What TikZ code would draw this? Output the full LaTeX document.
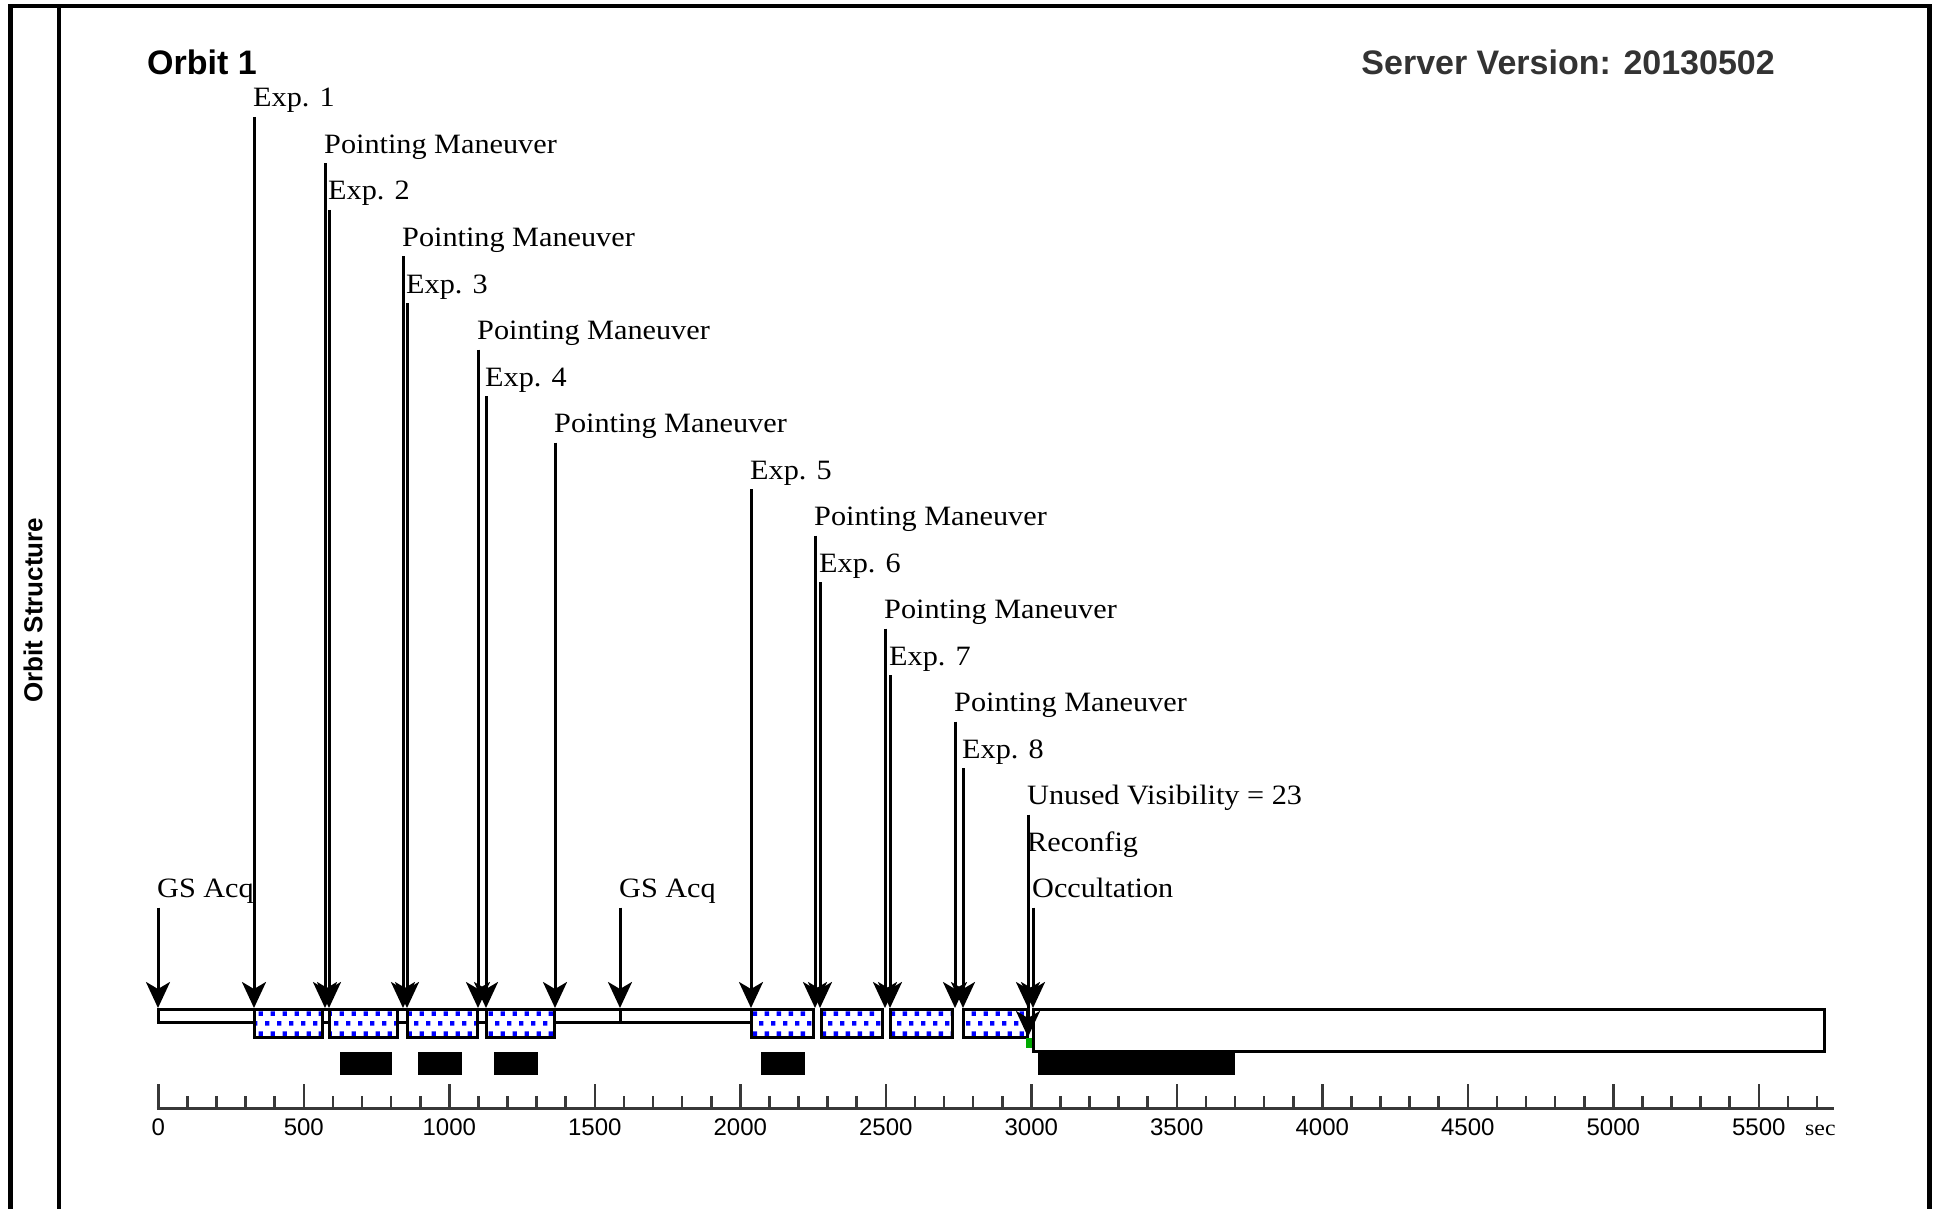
\documentclass[tikz,border=0pt]{standalone}
\usepackage{fontspec}
\setmainfont{Liberation Serif}
\newfontfamily\lblfont[FakeStretch=1.08]{Liberation Serif}
\newfontfamily\sansfont{Liberation Sans}
\usetikzlibrary{arrows.meta,patterns}
\definecolor{axgray}{HTML}{383838}
\definecolor{srvgray}{HTML}{333333}
\definecolor{recgreen}{RGB}{0,170,0}
\pgfdeclarepatternformonly{bluedots}{\pgfqpoint{0pt}{0pt}}{\pgfqpoint{11.5pt}{20pt}}{\pgfqpoint{11.5pt}{20pt}}{%
  \pgfpathrectangle{\pgfqpoint{0pt}{3.5pt}}{\pgfqpoint{4.6pt}{4.6pt}}%
  \pgfpathrectangle{\pgfqpoint{5.75pt}{13.5pt}}{\pgfqpoint{4.6pt}{4.6pt}}%
  \pgfusepath{fill}}
\begin{document}
\begin{tikzpicture}[x=1pt,y=-1pt,
  lbl/.style={font=\lblfont\fontsize{28}{28}\selectfont, anchor=base west, inner sep=0pt},
  evline/.style={line width=3pt, -{Stealth[length=26pt,width=24pt,inset=7pt]}},
  track/.style={draw=black, line width=3pt, fill=white},
  expbox/.style={draw=black, line width=3pt, preaction={fill=white}, pattern=bluedots, pattern color=blue},
  busy/.style={fill=black},
  axisline/.style={draw=axgray, line width=3pt},
  ticks/.style={draw=axgray, line width=2.6pt},
  axlbl/.style={font=\sansfont\fontsize{24}{24}\selectfont, anchor=base, inner sep=0pt},
  frame/.style={draw=black, line width=4.5pt, line join=miter}]
\useasboundingbox (0,0) rectangle (1939,1209);
\fill[white] (0,0) rectangle (1939,1209);
% frame
\draw[frame] (10.5,1212) -- (10.5,6) -- (1929.5,6) -- (1929.5,1212);
\draw[frame, line width=4pt] (59,6) -- (59,1212);
% headings
\node[font=\sansfont\bfseries\fontsize{34}{34}\selectfont, anchor=base west, inner sep=0pt] (orbit) at (147,75) {Orbit 1};
\node[font=\sansfont\bfseries\fontsize{34}{34}\selectfont, text=srvgray, anchor=base east, inner sep=0pt] (server) at (1775,75) {Server Version: 20130502};
\node[font=\sansfont\bfseries\fontsize{26}{26}\selectfont, rotate=90, inner sep=0pt] (side) at (33,610) {Orbit Structure};
% tracks
\draw[track] (158,1009) rectangle (751,1022);
\draw[track] (1033,1009) rectangle (1824,1051);
\foreach \a/\b in {254/322, 329/397, 407/477, 486/554, 751/813, 821/882, 890/952, 963/1027}
  \draw[expbox] (\a,1009) rectangle (\b,1037);
\draw[line width=3pt] (620,1009) -- (620,1022);
% busy bars
\foreach \a/\b in {340/392, 418/462, 494/538, 761/805, 1038/1235}
  \fill[busy] (\a,1052) rectangle (\b,1075);
% axis
\draw[axisline] (156.8,1108) -- (1834,1108);
\foreach \i in {0,...,57} {
  \pgfmathsetmacro\xx{158.3+29.1*\i}
  \draw[ticks] (\xx,1109) -- (\xx,1096);
}
\foreach \i in {0,...,11} {
  \pgfmathsetmacro\xx{158.3+145.5*\i}
  \draw[ticks] (\xx,1109) -- (\xx,1084);
}
\foreach \v [count=\k from 0] in {0,500,1000,1500,2000,2500,3000,3500,4000,4500,5000,5500}
  \node[axlbl] (ax\k) at (158.3+0.291*\v,1135) {\v};
\node[font=\lblfont\fontsize{22}{22}\selectfont, anchor=base west, inner sep=0pt] (sec) at (1805,1135) {sec};
% events
\foreach \n/\x/\r/\t in {e1/254/0/Exp. 1, pm1/325/1/Pointing Maneuver, e2/329/2/Exp. 2,
    pm2/403/3/Pointing Maneuver, e3/407/4/Exp. 3, pm3/478/5/Pointing Maneuver, e4/486/6/Exp. 4,
    pm4/555/7/Pointing Maneuver, e5/751/8/Exp. 5, pm5/815/9/Pointing Maneuver, e6/820/10/Exp. 6,
    pm6/885/11/Pointing Maneuver, e7/890/12/Exp. 7, pm7/955/13/Pointing Maneuver, e8/963/14/Exp. 8,
    uv/1028/15/Unused Visibility = 23, oc/1033/17/Occultation, gs1/158/17/GS Acq, gs2/620/17/GS Acq} {
  \pgfmathsetmacro\bl{107+46.5*\r}
  \node[lbl] (L\n) at (\x-1,\bl) {\t};
  \coordinate (S\n) at (\x,\bl+10);
  \coordinate (T\n) at (\x,1008);
  \draw[evline] (S\n) -- (T\n);
}
\node[lbl] (Lrc) at (1027,851) {Reconfig};
\coordinate (Src) at (1028,861);
\coordinate (Trc) at (1028,1037);
\draw[evline] (Src) -- (Trc);
\fill[recgreen] (1026,1038) rectangle (1032,1048);
\end{tikzpicture}
\end{document}
